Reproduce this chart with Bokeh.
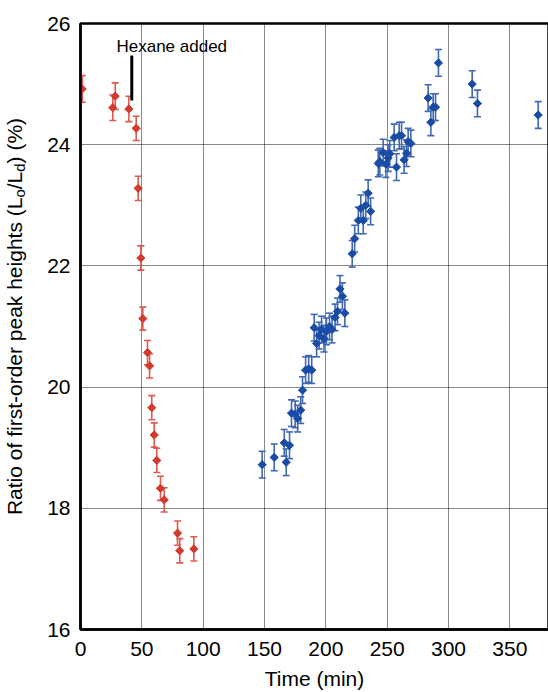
import numpy as np
from bokeh.plotting import figure
from bokeh.layouts import row
from bokeh.core.properties import value
from bokeh.models import (ColumnDataSource, Whisker, TeeHead, Label, Grid,
                          Range1d, SingleIntervalTicker)
from bokeh.embed import file_html
from bokeh.resources import INLINE

# ---------------- data ----------------
red_time = [1.4, 26.3, 28.3, 39.4, 45.4, 47.0, 49.2, 50.8, 54.6, 56.3, 58.1,
            60.1, 62.2, 65.2, 68.2, 79.1, 80.9, 92.4]
red_ratio = [24.92, 24.61, 24.80, 24.59, 24.27, 23.28, 22.13, 21.13, 20.57,
             20.35, 19.66, 19.21, 18.79, 18.33, 18.14, 17.59, 17.30, 17.33]
red_err = [0.22, 0.21, 0.22, 0.21, 0.20, 0.20, 0.20, 0.19, 0.20, 0.20, 0.20,
           0.20, 0.20, 0.20, 0.20, 0.20, 0.20, 0.20]

blue_time = [148.1, 157.9, 166.1, 167.7, 170.4, 172.0, 175.0, 177.0, 179.5,
             181.0, 183.5, 186.0, 188.5, 190.5, 192.5, 194.5, 196.5, 198.5,
             200.5, 203.0, 205.0, 207.5, 209.5, 211.5, 213.5, 215.5, 221.5,
             223.5, 226.5, 228.5, 230.5, 232.5, 234.5, 236.5, 242.7, 244.0,
             246.7, 248.9, 250.8, 252.1, 255.7, 257.6, 259.8, 261.7, 263.8,
             265.8, 267.1, 269.3, 283.4, 285.6, 287.5, 289.4, 291.8, 319.3,
             323.6, 373.1]
blue_ratio = [18.72, 18.84, 19.08, 18.76, 19.04, 19.57, 19.55, 19.48, 19.62,
              19.95, 20.28, 20.30, 20.28, 20.98, 20.72, 20.85, 20.95, 20.80,
              20.92, 21.00, 20.95, 21.15, 21.25, 21.62, 21.50, 21.22, 22.20,
              22.45, 22.75, 22.95, 22.75, 23.00, 23.20, 22.90, 23.69, 23.72,
              23.87, 23.68, 23.78, 23.85, 24.12, 23.63, 24.15, 24.15, 23.75,
              23.86, 24.05, 24.02, 24.77, 24.37, 24.62, 24.62, 25.35, 25.00,
              24.68, 24.49]
blue_err = [0.22] * len(blue_time)

hexane_text = "Hexane added"
hexane_time = 41.8
hexane_y = [24.73, 25.47]

x_label = "Time (min)"
y_label_parts = [("Ratio of first-order peak heights (L", False), ("o", True),
                 ("/L", False), ("d", True), (") (%)", False)]

X_MIN, X_MAX = 0, 381.5
Y_MIN, Y_MAX = 16, 26

RED = "#d23a2e"
RED_BAR = "#dc5a50"
BLUE = "#1a4ca6"
BLUE_BAR = "#4068b3"
FONT = "Liberation Sans"

FRAME_W, FRAME_H = 468, 606
LEFT_W = 44          # width of the separate y-label strip
TOTAL_H = 692

# ---------------- main figure ----------------
p = figure(frame_width=FRAME_W, frame_height=FRAME_H, output_backend="svg",
           toolbar_location=None, title=None, x_range=Range1d(X_MIN, X_MAX),
           y_range=Range1d(Y_MIN, Y_MAX), min_border_left=79 - LEFT_W,
           min_border_right=1, min_border_top=23, min_border_bottom=63)
p.background_fill_color = "white"
p.border_fill_color = "white"
p.outline_line_color = "black"
p.outline_line_width = 2.5

xt = SingleIntervalTicker(interval=50, num_minor_ticks=5)
yt = SingleIntervalTicker(interval=2, num_minor_ticks=4)
p.xaxis.ticker = xt
p.yaxis.ticker = yt

for ax in p.axis:
    ax.axis_line_width = 2.5
    ax.axis_line_color = "black"
    ax.major_tick_line_color = None
    ax.minor_tick_line_color = None
    ax.major_tick_in = 0
    ax.major_tick_out = 0
    ax.minor_tick_in = 0
    ax.minor_tick_out = 0
    ax.major_label_text_font = FONT
    ax.major_label_text_font_size = "21px"
    ax.major_label_text_color = "black"

p.xaxis[0].major_label_standoff = 12
p.yaxis[0].major_label_standoff = 10
p.xaxis[0].axis_label = x_label
p.xaxis[0].axis_label_text_font = FONT
p.xaxis[0].axis_label_text_font_size = "21px"
p.xaxis[0].axis_label_text_font_style = "normal"
p.xaxis[0].axis_label_text_color = "black"
p.xaxis[0].axis_label_standoff = 8

p.grid.grid_line_color = "#111111"
p.grid.grid_line_dash = "1 1"
p.grid.grid_line_width = 1

# inward tick marks on all four sides, drawn as bounded grids
px_x = (X_MAX - X_MIN) / FRAME_W
px_y = (Y_MAX - Y_MIN) / FRAME_H
MAJ, MIN_ = 13, 7
for dim, tk, lo, hi, px in ((0, xt, Y_MIN, Y_MAX, px_y), (1, yt, X_MIN, X_MAX, px_x)):
    for b in ((lo, lo + MAJ * px), (hi - MAJ * px, hi)):
        p.add_layout(Grid(dimension=dim, ticker=tk, bounds=b,
                          grid_line_color="black", grid_line_width=2.5,
                          minor_grid_line_color=None))
    for b in ((lo, lo + MIN_ * px), (hi - MIN_ * px, hi)):
        p.add_layout(Grid(dimension=dim, ticker=tk, bounds=b,
                          grid_line_color=None, minor_grid_line_color="black",
                          minor_grid_line_width=2))

# ---------------- error bars & points ----------------
def series(t, r, e, col, barcol):
    src = ColumnDataSource(dict(t=t, r=r, lo=np.array(r) - np.array(e),
                                hi=np.array(r) + np.array(e)))
    w = Whisker(base="t", lower="lo", upper="hi", source=src,
                line_color=barcol, line_width=1.6,
                upper_head=TeeHead(size=7, line_color=barcol, line_width=1.6),
                lower_head=TeeHead(size=7, line_color=barcol, line_width=1.6))
    p.add_layout(w)
    p.scatter("t", "r", source=src, marker="square", angle=np.pi / 4,
              size=5.8, fill_color=col, line_color=col, line_width=1)

series(red_time, red_ratio, red_err, RED, RED_BAR)
series(blue_time, blue_ratio, blue_err, BLUE, BLUE_BAR)

# ---------------- annotation ----------------
p.segment(x0=[hexane_time], y0=[hexane_y[0]], x1=[hexane_time], y1=[hexane_y[1]],
          line_color="black", line_width=3)
p.add_layout(Label(x=29.3, y=25.62, text=hexane_text, text_font=FONT,
                   text_font_size="17px", text_baseline="middle",
                   text_color="black"))

# ---------------- y axis label strip (with subscripts) ----------------
AW = {' ': 278, 'a': 556, 'b': 556, 'c': 500, 'd': 556, 'e': 556, 'f': 278,
      'g': 556, 'h': 556, 'i': 222, 'k': 500, 'l': 222, 'm': 833, 'n': 556,
      'o': 556, 'p': 556, 'r': 333, 's': 500, 't': 278, 'R': 722, 'L': 556,
      '(': 333, ')': 333, '/': 278, '%': 889, '-': 333}

def tw(s, size):
    return sum(AW.get(c, 556) for c in s) * size / 1000.0

MAIN, SUB = 21, 15
BASE_X, SUB_X = 14, 19
CENTER_Y = TOTAL_H - 315 + 22
total = sum(tw(s, SUB if sub else MAIN) for s, sub in y_label_parts)
pos = CENTER_Y - total / 2
parts = {False: dict(x=[], y=[], text=[]), True: dict(x=[], y=[], text=[])}
for s, sub in y_label_parts:
    size = SUB if sub else MAIN
    parts[sub]["x"].append(SUB_X if sub else BASE_X)
    parts[sub]["y"].append(pos)
    parts[sub]["text"].append(s)
    pos += tw(s, size)

lab = figure(frame_width=LEFT_W, frame_height=TOTAL_H, output_backend="svg",
             toolbar_location=None, title=None, x_range=Range1d(0, LEFT_W),
             y_range=Range1d(0, TOTAL_H), x_axis_type=None, y_axis_type=None,
             min_border=0, min_border_left=0, min_border_right=0,
             min_border_top=0, min_border_bottom=0)
lab.outline_line_color = None
lab.grid.visible = False
lab.background_fill_color = "white"
lab.border_fill_color = "white"
for sub, size in ((False, MAIN), (True, SUB)):
    lab.text(x="x", y="y", text="text", source=ColumnDataSource(parts[sub]),
             text_font_size=value(f"{size}px"), angle=np.pi / 2,
             text_font=value(FONT), text_align="left",
             text_baseline="alphabetic", text_color="black")

layout = row(lab, p, spacing=0)
open("out.html", "w").write(file_html(layout, INLINE))
